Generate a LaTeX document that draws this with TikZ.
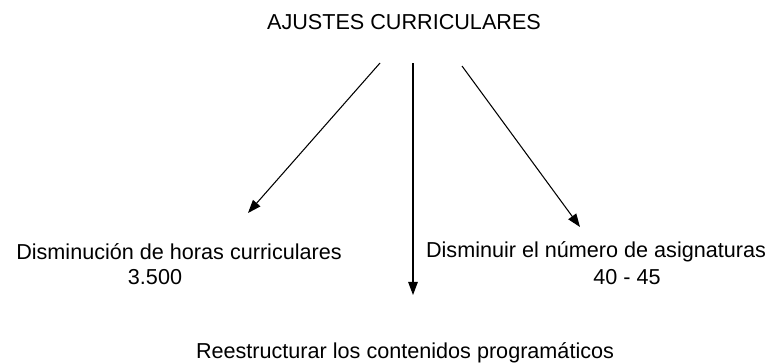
\documentclass[tikz,border=0pt]{standalone}
\usepackage{fontspec}
\setmainfont{Liberation Sans}
\usetikzlibrary{arrows.meta}

\begin{document}
\begin{tikzpicture}[x=0.02cm, y=-0.02cm, font=\fontsize{12.3}{14}\selectfont,
    ajuste/.style={-{Triangle[length=7.5pt,width=5.5pt]}, line width=0.6pt}]
            \useasboundingbox (0,0) rectangle (773,362);
            % 
            \node[inner sep=0pt] (titulo) at (404,22) {AJUSTES CURRICULARES};
            
            % 
            \node[inner sep=0pt] (horas) at (179,252) {Disminución de horas curriculares};
            \node[inner sep=0pt] (horasnum) at (155,277) {3.500};
            \node[inner sep=0pt] (asig) at (596,252) {Disminuir el número de asignaturas};
            \node[inner sep=0pt] (asignum) at (627,277) {40 - 45};
            \node[inner sep=0pt] (conten) at (405,353) {Reestructurar los contenidos programáticos};
            
            % 
            \coordinate (s1) at (380,63);
            \coordinate (s2) at (413,63);
            \coordinate (s3) at (462,66);
            \coordinate (t1) at (248,213);
            \coordinate (t2) at (413,295);
            \coordinate (t3) at (580,227);
            
            % Ajustes
            \draw[ajuste] (s1) -- (t1);
            \draw[ajuste] (s2) -- (t2);
            \draw[ajuste] (s3) -- (t3);

        \end{tikzpicture}
\end{document}
